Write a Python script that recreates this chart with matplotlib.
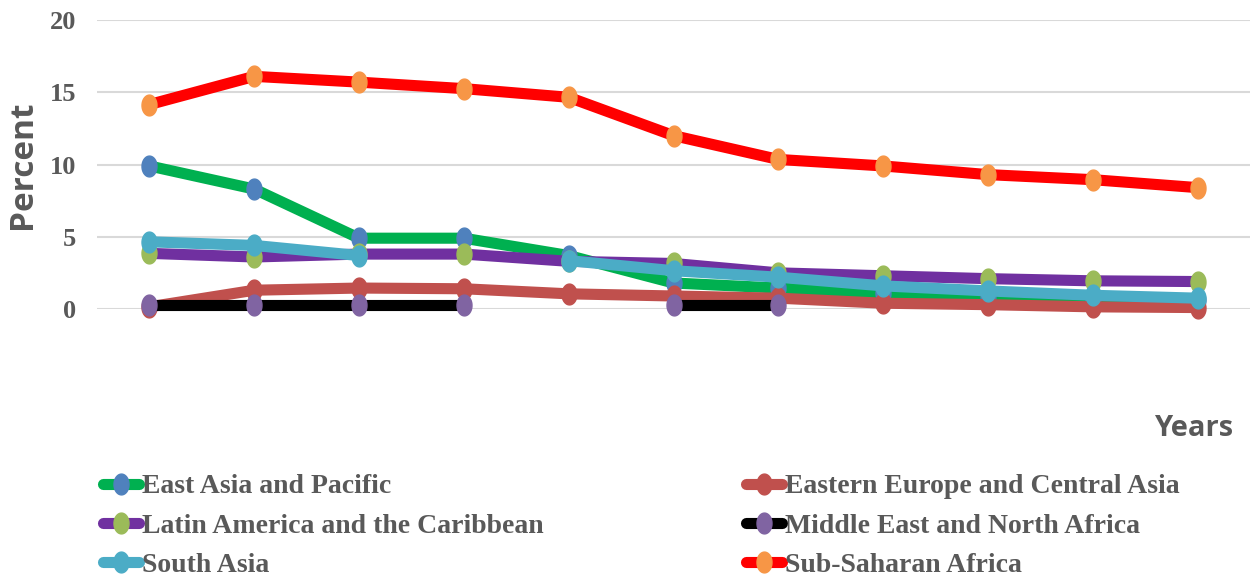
import numpy as np
import matplotlib.pyplot as plt
from matplotlib.path import Path
from matplotlib.lines import Line2D

nan = np.nan

# Share of population, eleven survey years (not labelled on the axis)
years = list(range(11))

east_asia = [9.9, 8.3, 4.9, 4.9, 3.7, 1.8, 1.45, 1.1, 0.9, 0.7, 0.6]
eastern_europe = [0.15, 1.3, 1.45, 1.4, 1.05, 0.9, 0.75, 0.4, 0.3, 0.15, 0.1]
latin_america = [3.85, 3.6, 3.8, 3.8, 3.3, 3.15, 2.5, 2.3, 2.1, 1.95, 1.9]
middle_east = [0.3, 0.3, 0.3, 0.3, nan, 0.3, 0.3, nan, nan, nan, nan]
south_asia = [4.65, 4.4, 3.7, nan, 3.35, 2.65, 2.2, 1.6, 1.25, 0.95, 0.75]
sub_saharan = [14.15, 16.1, 15.7, 15.25, 14.65, 12.0, 10.35, 9.9, 9.3, 8.95, 8.4]

series = [
    ("East Asia and Pacific", east_asia, "#00B050", "#4F81BD"),
    ("Eastern Europe and Central Asia", eastern_europe, "#C0504D", "#C0504D"),
    ("Latin America and the Caribbean", latin_america, "#7030A0", "#9BBB59"),
    ("Middle East and North Africa", middle_east, "#000000", "#8064A2"),
    ("South Asia", south_asia, "#4BACC6", "#4BACC6"),
    ("Sub-Saharan Africa", sub_saharan, "#FF0000", "#F79646"),
]

# tall ellipse marker
t = np.linspace(0, 2 * np.pi, 40)
ellipse = Path(np.column_stack([0.72 * np.cos(t), np.sin(t)]))

fig = plt.figure(figsize=(12.6, 5.81), dpi=100)
ax = fig.add_axes([97 / 1260, 272 / 581, 1153 / 1260, 289 / 581])

for name, vals, lc, mc in series:
    ax.plot(years, vals, color=lc, lw=8, solid_capstyle='round',
            marker=ellipse, markersize=15, markerfacecolor=mc,
            markeredgecolor=mc, clip_on=False, label=name)

ax.set_xlim(-0.5, 10.5)
ax.set_ylim(0, 20)
ax.set_yticks([0, 5, 10, 15, 20])
ax.set_xticks([])
ax.yaxis.grid(True, color='#D9D9D9', lw=1.5)
ax.set_axisbelow(True)
for s in ax.spines.values():
    s.set_visible(False)
ax.tick_params(axis='y', length=0, pad=15, labelsize=19, labelcolor='#595959')
for lab in ax.get_yticklabels():
    lab.set_fontfamily('Liberation Serif')
    lab.set_fontweight('bold')

fig.text(22 / 1260, 1 - 165 / 581, "Percent", rotation=90, ha='center', va='center',
         fontsize=24, fontweight='bold', color='#595959', family='Open Sans')
fig.text(1233 / 1260, 1 - 428 / 581, "Years", ha='right', va='center',
         fontsize=21, fontweight='bold', color='#595959', family='Open Sans')

# two legend columns, read row by row
def leg_handle(lc, mc):
    return Line2D([], [], color=lc, lw=8, solid_capstyle='round',
                  marker=ellipse, markersize=15, markerfacecolor=mc, markeredgecolor=mc)

left = [0, 2, 4]
right = [1, 3, 5]
for idx, x0 in ((left, 103 / 1260), (right, 746 / 1260)):
    hs = [leg_handle(series[i][2], series[i][3]) for i in idx]
    labels = [series[i][0] for i in idx]
    leg = fig.legend(hs, labels, loc='upper left', bbox_to_anchor=(x0, 1 - 474 / 581),
                     frameon=False, handlelength=1.3, handletextpad=0.1,
                     labelspacing=0.5, borderaxespad=0, borderpad=0,
                     prop={'family': 'Liberation Serif', 'weight': 'bold', 'size': 20})
    for txt in leg.get_texts():
        txt.set_color('#595959')

fig.savefig("out.png", dpi=100)
